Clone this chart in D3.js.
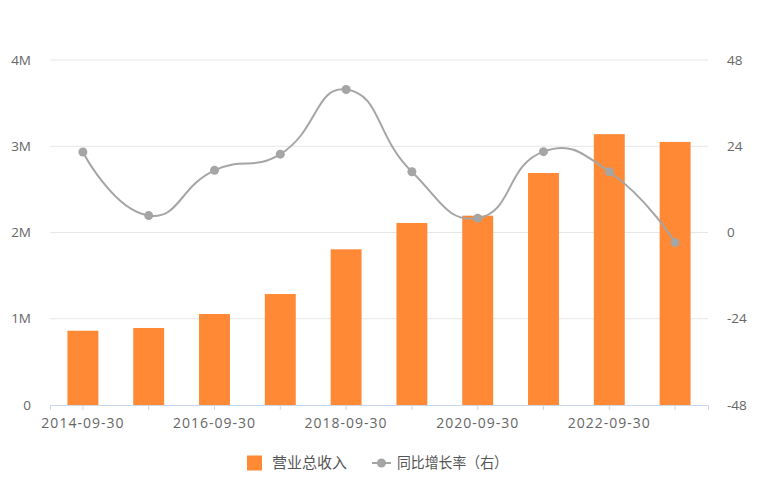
<!DOCTYPE html>
<html>
<head>
<meta charset="utf-8">
<script src="https://cdn.jsdelivr.net/npm/d3@7/dist/d3.min.js"></script>
<style>
  body { margin: 0; background: #fff; }
  svg text { font-family: "Open Sans", "Noto Sans CJK SC", sans-serif; }
</style>
</head>
<body>
<svg id="chart" width="782" height="492"></svg>
<script>
// data
var categories = ["2014-09-30", "2015-09-30", "2016-09-30", "2017-09-30", "2018-09-30",
                  "2019-09-30", "2020-09-30", "2021-09-30", "2022-09-30", "2023-09-30"];
var revenue = [861000, 893000, 1055000, 1287000, 1805000, 2110000, 2195000, 2690000, 3140000, 3050000];
var growth = [22.4, 4.7, 17.3, 21.8, 39.8, 16.9, 4.0, 22.5, 16.9, -2.8];
var leftTicks = [0, 1000000, 2000000, 3000000, 4000000];
var leftTickLabels = ["0", "1M", "2M", "3M", "4M"];
var rightTicks = [-48, -24, 0, 24, 48];

var W = 782, H = 492;
var margin = { top: 60, right: 74, bottom: 87, left: 50 };

var svg = d3.select("#chart");

var x = d3.scaleBand()
    .domain(categories)
    .range([margin.left, W - margin.right])
    .paddingInner(0.53)
    .paddingOuter(0.265);

var xc = d3.scaleBand()
    .domain(categories)
    .range([margin.left, W - margin.right]);

var yL = d3.scaleLinear().domain([0, 4000000]).range([H - margin.bottom, margin.top]);
var yR = d3.scaleLinear().domain([-48, 48]).range([H - margin.bottom, margin.top]);

// grid lines
svg.append("g").selectAll("line")
    .data(leftTicks.slice(1))
    .enter().append("line")
        .attr("x1", margin.left)
        .attr("x2", W - margin.right)
        .attr("y1", function(d){ return yL(d); })
        .attr("y2", function(d){ return yL(d); })
        .attr("stroke", "#e6e6e6")
        .attr("stroke-width", 1);

// left axis labels
svg.append("g").selectAll("text")
    .data(leftTicks)
    .enter().append("text")
        .attr("x", 31)
        .attr("y", function(d){ return yL(d); })
        .attr("dy", "0.35em")
        .attr("text-anchor", "end")
        .attr("font-size", 13.5)
        .attr("fill", "#666")
        .text(function(d, i){ return leftTickLabels[i]; });

// right axis labels
svg.append("g").selectAll("text")
    .data(rightTicks)
    .enter().append("text")
        .attr("x", 727)
        .attr("y", function(d){ return yR(d); })
        .attr("dy", "0.35em")
        .attr("text-anchor", "start")
        .attr("font-size", 13.5)
        .attr("fill", "#666")
        .text(function(d){ return d; });

// bars
svg.append("g").selectAll("rect")
    .data(revenue)
    .enter().append("rect")
        .attr("x", function(d, i){ return x(categories[i]); })
        .attr("y", function(d){ return yL(d); })
        .attr("width", x.bandwidth())
        .attr("height", function(d){ return yL(0) - yL(d); })
        .attr("fill", "#ff8935");

// bottom axis
var xAxis = d3.axisBottom(xc)
    .tickSizeOuter(0)
    .tickSize(5)
    .tickFormat(function(d, i){ return i % 2 === 0 ? d : ""; });

var gx = svg.append("g")
    .attr("transform", "translate(0," + yL(0) + ")")
    .call(xAxis);
gx.select(".domain").attr("stroke", "#ccd6eb");
gx.selectAll(".tick line").attr("stroke", "#ccd6eb");
gx.selectAll(".tick text")
    .attr("font-size", 14)
    .attr("fill", "#666")
    .attr("dy", "1.05em")
    .style("letter-spacing", "1px")
    .style("font-family", "'Open Sans', sans-serif");

// smoothed line, echarts-like bezier
var pts = growth.map(function(d, i){
    return [xc(categories[i]) + xc.bandwidth() / 2, yR(d)];
});

function smoothPath(p, smooth) {
    var path = d3.path();
    path.moveTo(p[0][0], p[0][1]);
    var cp0 = [p[0][0], p[0][1]];
    for (var i = 1; i < p.length; i++) {
        var prev = p[i - 1], cur = p[i], next = p[i + 1];
        var ncp0, ncp1;
        if (!next) {
            ncp0 = [cur[0], cur[1]];
            ncp1 = ncp0;
        } else {
            var vx = next[0] - prev[0], vy = next[1] - prev[1];
            var l0 = Math.hypot(cur[0] - prev[0], cur[1] - prev[1]);
            var l1 = Math.hypot(next[0] - cur[0], next[1] - cur[1]);
            var r = l1 / (l0 + l1);
            ncp0 = [cur[0] - vx * smooth * (1 - r), cur[1] - vy * smooth * (1 - r)];
            ncp1 = [cur[0] + vx * smooth * r, cur[1] + vy * smooth * r];
        }
        path.bezierCurveTo(cp0[0], cp0[1], ncp0[0], ncp0[1], cur[0], cur[1]);
        cp0 = ncp1;
    }
    return path.toString();
}

svg.append("path")
    .attr("d", smoothPath(pts, 0.5))
    .attr("fill", "none")
    .attr("stroke", "#a5a5a5")
    .attr("stroke-width", 2);

svg.append("g").selectAll("circle")
    .data(pts)
    .enter().append("circle")
        .attr("cx", function(d){ return d[0]; })
        .attr("cy", function(d){ return d[1]; })
        .attr("r", 4.5)
        .attr("fill", "#a5a5a5");

// legend
var lg = svg.append("g").attr("transform", "translate(0,463)");
lg.append("rect")
    .attr("x", 247).attr("y", -7.5)
    .attr("width", 15).attr("height", 15)
    .attr("fill", "#ff8935");
lg.append("text")
    .attr("x", 272).attr("y", 0).attr("dy", "0.35em")
    .attr("font-size", 15).attr("fill", "#555")
    .style("font-family", "'Noto Sans CJK SC', sans-serif")
    .text("营业总收入");
lg.append("line")
    .attr("x1", 372).attr("x2", 391)
    .attr("y1", 0).attr("y2", 0)
    .attr("stroke", "#a5a5a5").attr("stroke-width", 2);
lg.append("circle")
    .attr("cx", 381.5).attr("cy", 0).attr("r", 4.5)
    .attr("fill", "#a5a5a5");
lg.append("text")
    .attr("x", 397).attr("y", 0).attr("dy", "0.35em")
    .attr("font-size", 15).attr("fill", "#555")
    .attr("textLength", 111)
    .attr("lengthAdjust", "spacingAndGlyphs")
    .style("font-family", "'Noto Sans CJK SC', sans-serif")
    .text("同比增长率（右）");
</script>
</body>
</html>
